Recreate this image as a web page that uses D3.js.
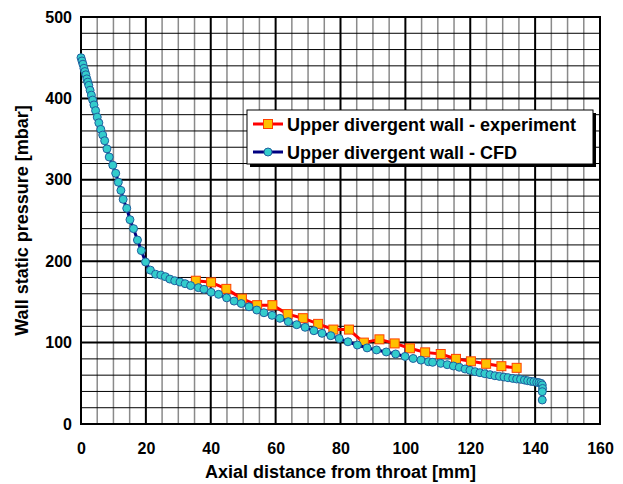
<!DOCTYPE html>
<html lang="en">
<head>
<meta charset="UTF-8">
<title>Wall static pressure</title>
<script src="https://d3js.org/d3.v7.min.js"></script>
<style>
  body { margin: 0; background: #fff; }
  svg text { font-family: "Liberation Sans", Arial, sans-serif; font-weight: bold; }
</style>
</head>
<body>
<svg id="chart" width="623" height="484"></svg>
<script>
// experiment (upper divergent wall)
var expX = [35.4, 40.1, 44.8, 49.6, 54.3, 59.0, 63.7, 68.4, 73.1, 77.8, 82.6,
            87.2, 92.0, 96.7, 101.4, 106.1, 110.9, 115.6, 120.2, 124.9, 129.6, 134.3];
var expY = [176, 174, 166, 154, 146, 146, 135, 130, 123, 116, 116,
            100, 104, 99, 93, 88, 86, 80, 77, 74, 71, 69];

// CFD (upper divergent wall)
var cfdX = [0, 0.3, 0.6, 0.9, 1.2, 1.5, 1.8, 2.1, 2.4, 2.8, 3.2, 3.6, 4.0, 4.5, 5.0, 5.5,
            6.1, 6.7, 7.3, 8.0, 8.7, 9.8, 10.7, 11.5, 12.3, 13.0, 14.1, 15.1, 16.2, 17.4,
            18.6, 19.9, 21.4, 23.0, 24.6, 26.0, 27.4, 28.9, 30.5, 32.1, 33.8, 36.2, 37.9,
            40.1, 42.4, 44.9, 47.2, 49.4, 51.8, 54.2, 56.4, 58.9, 61.3, 63.9, 66.5, 69.1,
            71.8, 74.3, 77.0, 79.6, 82.3, 85.2, 88.2, 91.1, 94.1, 97.0, 99.9, 102.4, 104.8,
            107.1, 108.4, 110.9, 112.9, 114.8, 116.6, 118.4, 119.9, 121.5, 123.0, 124.5,
            126.1, 127.6, 129.0, 130.4, 131.7, 133.1, 134.3, 135.5, 136.7, 137.7, 138.7,
            139.6, 140.5, 141.2, 141.8, 142.2, 142.3, 142.2, 142.2];
var cfdY = [450, 446, 442, 437, 433, 429, 424, 420, 416, 410, 404, 398, 392, 385, 377, 370,
            362, 355, 348, 338, 328, 318, 308, 297, 287, 276, 265, 251, 240, 226,
            213, 199, 189, 184, 183, 181, 178, 176, 174.4, 172.4, 170, 167.5, 165.5,
            161.8, 159.3, 155, 151, 148, 144, 140, 136.7, 133.5, 129.8, 125.7, 122, 118.8,
            114.6, 111.4, 108.5, 105, 101, 97, 93.5, 91, 88.5, 86, 83, 80.5, 78.5,
            76.5, 75.8, 74.5, 72.9, 71.3, 69.7, 67.6, 66, 64.3, 63, 61.8,
            60.6, 59.3, 58.5, 57.7, 56.9, 56, 55.3, 54.9, 54, 53.2, 52.4,
            52, 51.2, 50.8, 50, 48, 43.7, 39.7, 29.5];

var xTicks = [0, 20, 40, 60, 80, 100, 120, 140, 160];
var yTicks = [0, 100, 200, 300, 400, 500];
var seriesNames = ["Upper divergent wall - experiment", "Upper divergent wall - CFD"];

var svg = d3.select("#chart");
// plot area in pixels ("top" is taken by window.top)
var pl = 81, pr = 600, pt = 17, pb = 424;

var x = d3.scaleLinear().domain([0, 160]).range([pl, pr]);
var y = d3.scaleLinear().domain([0, 500]).range([pb, pt]);

// grid
var grid = svg.append("g");
grid.selectAll(".vminor")
  .data(d3.range(0, 161, 5).filter(function(d) { return d % 20 !== 0; }))
  .enter().append("line")
    .attr("x1", d => x(d)).attr("x2", d => x(d))
    .attr("y1", pt).attr("y2", pb)
    .attr("stroke", "#8a8a8a").attr("stroke-width", 1.5);
grid.selectAll(".hminor")
  .data(d3.range(0, 501, 20).filter(function(d) { return d % 100 !== 0; }))
  .enter().append("line")
    .attr("x1", pl).attr("x2", pr)
    .attr("y1", d => y(d)).attr("y2", d => y(d))
    .attr("stroke", "#000").attr("stroke-width", 1);
grid.selectAll(".vmajor")
  .data(xTicks)
  .enter().append("line")
    .attr("x1", d => x(d)).attr("x2", d => x(d))
    .attr("y1", pt).attr("y2", pb)
    .attr("stroke", "#000").attr("stroke-width", 2);
grid.selectAll(".hmajor")
  .data(yTicks)
  .enter().append("line")
    .attr("x1", pl).attr("x2", pr)
    .attr("y1", d => y(d)).attr("y2", d => y(d))
    .attr("stroke", "#000").attr("stroke-width", 2);
svg.append("rect")
  .attr("x", pl).attr("y", pt)
  .attr("width", pr - pl).attr("height", pb - pt)
  .attr("fill", "none").attr("stroke", "#000").attr("stroke-width", 2);

// axes (labels only, the grid draws the lines)
var xAxis = svg.append("g")
  .attr("transform", "translate(0," + pb + ")")
  .call(d3.axisBottom(x).tickValues(xTicks).tickSize(0).tickPadding(19));
var yAxis = svg.append("g")
  .attr("transform", "translate(" + pl + ",0)")
  .call(d3.axisLeft(y).tickValues(yTicks).tickSize(0).tickPadding(9));
[xAxis, yAxis].forEach(function(a) {
  a.select(".domain").remove();
  a.selectAll("text").style("font-size", "16px").attr("fill", "#000")
    .style("font-family", "'Liberation Sans', Arial, sans-serif").style("font-weight", "bold");
});

svg.append("text")
  .attr("x", (pl + pr) / 2).attr("y", 478)
  .attr("text-anchor", "middle").style("font-size", "18px")
  .text("Axial distance from throat [mm]");
svg.append("text")
  .attr("transform", "translate(28," + ((pt + pb) / 2) + ") rotate(-90)")
  .attr("text-anchor", "middle").style("font-size", "18px")
  .text("Wall static pressure [mbar]");

// series
var line = d3.line().x(d => x(d[0])).y(d => y(d[1]));
var expData = expX.map((v, i) => [v, expY[i]]);
var cfdData = cfdX.map((v, i) => [v, cfdY[i]]);

svg.append("path").datum(expData)
  .attr("d", line).attr("fill", "none")
  .attr("stroke", "#ff0000").attr("stroke-width", 3).attr("stroke-linejoin", "round");
svg.append("g").selectAll("rect").data(expData).enter().append("rect")
  .attr("x", d => x(d[0]) - 4.5).attr("y", d => y(d[1]) - 4.5)
  .attr("width", 9).attr("height", 9)
  .attr("fill", "#ffc000").attr("stroke", "#ff4000").attr("stroke-width", 1);

svg.append("path").datum(cfdData)
  .attr("d", line).attr("fill", "none")
  .attr("stroke", "#000080").attr("stroke-width", 3).attr("stroke-linejoin", "round");
svg.append("g").selectAll("circle").data(cfdData).enter().append("circle")
  .attr("cx", d => x(d[0])).attr("cy", d => y(d[1])).attr("r", 4)
  .attr("fill", "#33cccc").attr("stroke", "#1f5f9f").attr("stroke-width", 1);

// legend
var lg = svg.append("g").attr("transform", "translate(247,110)");
lg.append("rect").attr("x", 3).attr("y", 3).attr("width", 346).attr("height", 54).attr("fill", "#000");
lg.append("rect").attr("x", 0).attr("y", 0).attr("width", 346).attr("height", 54)
  .attr("fill", "#fff").attr("stroke", "#000").attr("stroke-width", 1);
[0, 1].forEach(function(i) {
  var cy = 14 + i * 28;
  lg.append("line").attr("x1", 6).attr("x2", 36).attr("y1", cy).attr("y2", cy)
    .attr("stroke", i === 0 ? "#ff0000" : "#000080").attr("stroke-width", 3);
  if (i === 0) {
    lg.append("rect").attr("x", 16.5).attr("y", cy - 4.5).attr("width", 9).attr("height", 9)
      .attr("fill", "#ffc000").attr("stroke", "#ff4000");
  } else {
    lg.append("circle").attr("cx", 21).attr("cy", cy).attr("r", 4)
      .attr("fill", "#33cccc").attr("stroke", "#1f5f9f");
  }
  lg.append("text").attr("x", 40).attr("y", cy + 6.5)
    .style("font-size", "18px").text(seriesNames[i]);
});
</script>
</body>
</html>
